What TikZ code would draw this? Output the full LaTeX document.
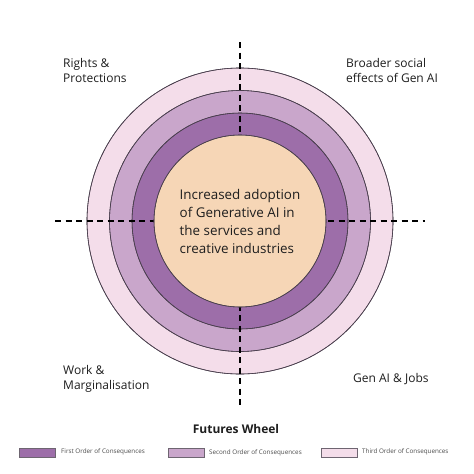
\documentclass[tikz,border=0pt]{standalone}
\usepackage{fontspec}
\setmainfont{Open Sans}
\definecolor{firstc}{HTML}{9D6EA9}
\definecolor{secondc}{HTML}{C9A6CB}
\definecolor{thirdc}{HTML}{F4DDEA}
\definecolor{corec}{HTML}{F6D6B6}
\definecolor{edgec}{HTML}{4A3F4E}
\definecolor{txt}{HTML}{1E1E1E}
\tikzset{
  ring/.style={draw=edgec, line width=0.6pt},
  axisline/.style={line width=1.3pt, dash pattern=on 6pt off 4.5pt, black},
  cornerlabel/.style={align=left, anchor=north west, inner sep=0pt, text=txt, font=\fontsize{12}{15}\selectfont},
  legbox/.style={draw=edgec!80, line width=0.5pt, minimum width=36pt, minimum height=9pt, inner sep=0pt, anchor=west},
  legtext/.style={anchor=west, inner sep=0pt, text=txt!80, font=\fontsize{6.3}{7}\selectfont}
}
\begin{document}
\begin{tikzpicture}[x=1pt,y=-1pt]
\useasboundingbox[fill=white] (0,0) rectangle (474,474);
\coordinate (c) at (240,221);
\fill[ring, fill=thirdc] (c) circle (153);
\fill[ring, fill=secondc] (c) circle (130.5);
\fill[ring, fill=firstc] (c) circle (108);
\draw[ring] (c) circle (153);
\draw[ring] (c) circle (130.5);
\draw[ring] (c) circle (108);
\coordinate (hl) at (55,221);
\coordinate (hr) at (425,221);
\coordinate (vt) at (240,42);
\coordinate (vb) at (240,407);
\draw[axisline] (hl) -- (hr);
\draw[axisline] (vt) -- (vb);
\fill[ring, fill=corec] (c) circle (86);
\draw[ring] (c) circle (86);
\node[align=left, inner sep=0pt, text=txt, font=\fontsize{13.4}{18}\selectfont] (core) at (240,221)
  {Increased adoption\\of Generative AI in\\the services and\\creative industries};
\node[cornerlabel] (tl) at (63,58.5) {Rights \&\\Protections};
\node[cornerlabel] (tr) at (346,58.5) {Broader social\\effects of Gen AI};
\node[cornerlabel] (bl) at (63,365) {Work \&\\Marginalisation};
\node[cornerlabel, anchor=west] (br) at (353,379) {Gen AI \& Jobs};
\node[font=\fontsize{12}{15}\bfseries\selectfont, text=txt] (title) at (236,429) {Futures Wheel};
\node[legbox, fill=firstc] (b1) at (19,452.5) {};
\node[legtext] (l1) at (61,452) {First Order of Consequences};
\node[legbox, fill=secondc] (b2) at (168,452.5) {};
\node[legtext] (l2) at (209,452.5) {Second Order of Consequences};
\node[legbox, fill=thirdc] (b3) at (321,452.5) {};
\node[legtext] (l3) at (362,452) {Third Order of Consequences};
\end{tikzpicture}
\end{document}
